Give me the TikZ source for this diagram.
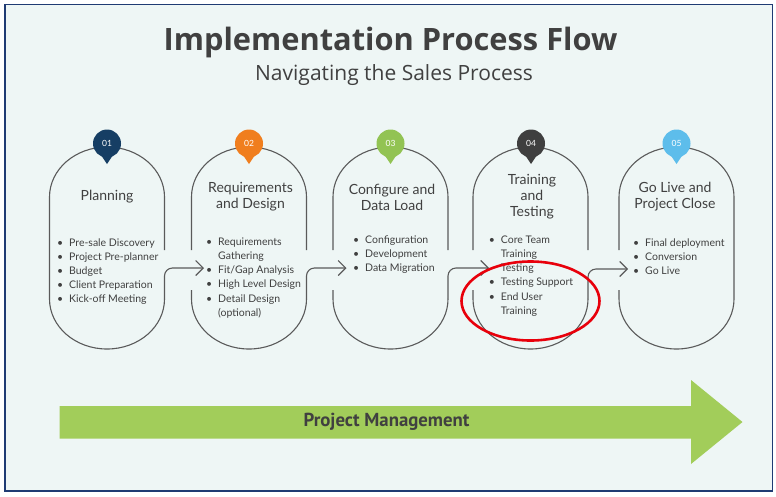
\documentclass[tikz,border=0pt]{standalone}
\usepackage{fontspec}
\setmainfont{Lato}
\newfontfamily\titlefont{Open Sans}
\newfontfamily\pmfont{PT Sans}
\usetikzlibrary{arrows.meta}
\definecolor{bg}{HTML}{EEF6F5}
\definecolor{framec}{HTML}{1F3B73}
\definecolor{txt}{HTML}{404040}
\definecolor{pillc}{HTML}{5A5A5A}
\definecolor{cA}{HTML}{163E64}
\definecolor{cB}{HTML}{F07E1E}
\definecolor{cC}{HTML}{92C353}
\definecolor{cD}{HTML}{3F3F3F}
\definecolor{cE}{HTML}{5DBDEB}
\definecolor{pmgreen}{HTML}{A2CD5A}
\definecolor{ringred}{HTML}{E8000B}
\newcommand\bul{\makebox[12pt][l]{\textbullet}}
\newcommand\cnt{\hspace*{12pt}}
\tikzset{
  pill/.style={draw=pillc, line width=1.1pt},
  conn/.style={draw=pillc, line width=1.1pt, -{Straight Barb[length=7.5pt,width=15pt]}},
  badge/.style={circle, minimum size=28pt, inner sep=0pt, text=white, font=\fontsize{8.5}{10}\selectfont},
  ptitle/.style={align=center, text=txt, font=\fontsize{14}{16}\selectfont, inner sep=0pt},
  plist/.style={anchor=north west, align=left, text=txt, inner sep=0pt, font=\fontsize{10.5}{14.1}\selectfont},
}
\begin{document}
\begin{tikzpicture}[x=1pt,y=-1pt]
\useasboundingbox (0,0) rectangle (776,496);
\fill[white] (0,0) rectangle (776,496);
\draw[framec, line width=1.5pt, fill=bg] (5,4.5) rectangle (772.5,491);

% titles
\node[text=txt, font=\titlefont\bfseries\fontsize{30.8}{34}\selectfont, anchor=base] (title) at (390.5,50) {Implementation Process Flow};
\node[text=txt, font=\titlefont\fontsize{21}{24}\selectfont, anchor=base] (subtitle) at (394,80) {Navigating the Sales Process};

% pill 1
\draw[pill] (164.5,250) -- (164.5,197) arc[start angle=0,end angle=180,x radius=57.5pt,y radius=50pt]
  -- (49.5,299) arc[start angle=180,end angle=360,x radius=57.5pt,y radius=50pt];
\draw[conn, rounded corners=8pt] (164.5,299) -- (164.5,268) -- (204,268);
% pill 2
\draw[pill] (306.5,250) -- (306.5,197) arc[start angle=0,end angle=180,x radius=57.5pt,y radius=50pt] -- (191.5,250);
\draw[pill] (191.5,290) -- (191.5,299) arc[start angle=180,end angle=360,x radius=57.5pt,y radius=50pt];
\draw[conn, rounded corners=8pt] (306.5,299) -- (306.5,268) -- (346.5,268);
% pill 3
\draw[pill] (448,250) -- (448,197) arc[start angle=0,end angle=180,x radius=57.5pt,y radius=50pt] -- (333,250);
\draw[pill] (333,290) -- (333,299) arc[start angle=180,end angle=360,x radius=57.5pt,y radius=50pt];
\draw[conn, rounded corners=8pt] (448,299) -- (448,268) -- (489,268);
% pill 4
\draw[pill] (588,250) -- (588,197) arc[start angle=0,end angle=180,x radius=57.5pt,y radius=50pt] -- (473,250);
\draw[pill] (473,290) -- (473,299) arc[start angle=180,end angle=360,x radius=57.5pt,y radius=50pt];
\draw[conn, rounded corners=8pt] (588,299) -- (588,269) -- (628,269);
% pill 5
\draw[pill] (619,250) -- (619,197) arc[start angle=180,end angle=0,x radius=57.5pt,y radius=50pt]
  -- (734,299) arc[start angle=0,end angle=-180,x radius=57.5pt,y radius=50pt] -- (619,290);

% badges
\foreach \n/\x/\c/\t in {1/107/cA/01, 2/249/cB/02, 3/390.5/cC/03, 4/531/cD/04, 5/676.5/cE/05}{
  \fill[\c] (\x-7,153.5) -- (\x,164) -- (\x+7,153.5) -- cycle;
  \node[badge, fill=\c] (badge\n) at (\x,143.5) {\t};
}

% pill titles
\node[ptitle] (t1) at (107,197) {Planning};
\node[ptitle] (t2) at (250.5,197) {Requirements\\and Design};
\node[ptitle] (t3) at (392,197) {Configure and\\Data Load};
\node[ptitle] (t4) at (532,197) {Training\\and\\Testing};
\node[ptitle] (t5) at (675,197) {Go Live and\\Project Close};

% lists
\node[plist] (l1) at (57,236.3) {\strut\bul Pre-sale Discovery\\\bul Project Pre-planner\\\bul Budget\\\bul Client Preparation\\\bul Kick-off Meeting};
\node[plist] (l2) at (206,235.6) {\strut\bul Requirements\\\cnt Gathering\\\bul Fit/Gap Analysis\\\bul High Level Design\\\bul Detail Design\\\cnt(optional)};
\node[plist] (l3) at (353,233.6) {\strut\bul Configuration\\\bul Development\\\bul Data Migration};
\node[plist] (l4) at (488.7,233.6) {\strut\bul Core Team\\\cnt Training\\\cnt Testing\\\bul Testing Support\\\bul End User\\\cnt Training};
\node[plist] (l5) at (633,236.3) {\strut\bul Final deployment\\\bul Conversion\\\bul Go Live};

% project management arrow
\fill[pmgreen] (59.5,406) -- (691,406) -- (691,380) -- (742.5,422) -- (691,464) -- (691,438.5) -- (59.5,438.5) -- cycle;
\node[text=txt, font=\pmfont\bfseries\fontsize{18.8}{22}\selectfont] (pm) at (386.5,422) {Project Management};

% red ring
\draw[ringred, line width=2.6pt] (530.5,301) ellipse [x radius=69pt, y radius=39.5pt];
\end{tikzpicture}
\end{document}
